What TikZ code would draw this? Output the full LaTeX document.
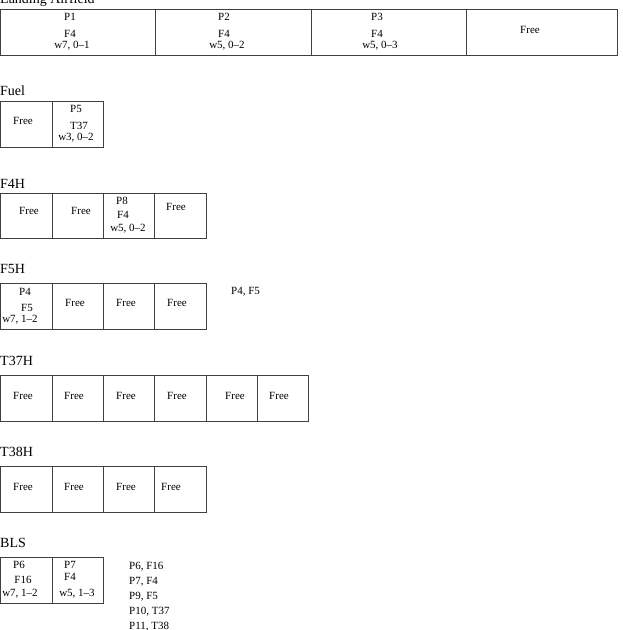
\documentclass[tikz,border=0pt]{standalone}
\usepackage{fontspec}
\setmainfont{Liberation Serif}
\usepackage{tikz}
\usetikzlibrary{positioning}
\tikzset{
  cellrow/.style={draw=black!75, line width=0.8pt},
  slot/.style={inner sep=0pt, font=\fontsize{11}{13}\selectfont},
  baylbl/.style={anchor=base west, inner sep=0pt, font=\fontsize{14}{16}\selectfont},
  listtxt/.style={slot, anchor=west},
}

\begin{document}
\begin{tikzpicture}[x=1pt,y=-1pt]
  \useasboundingbox (0,0) rectangle (622,630);

  % Landing Airfield
  \node[baylbl] (landlbl) at (0,3) {Landing Airfield};
  \draw[cellrow] (0.5,9.5) rectangle (617,55.5);
  \foreach \x in {155,311,466} \draw[cellrow] (\x,9.5) -- (\x,55.5);
  \node[slot] (p1) at (70,17) {P1};
  \node[slot] (p1f) at (70,34) {F4};
  \node[slot] (p1w) at (72,46) {w7, 0--1};
  \node[slot] (p2) at (224,17) {P2};
  \node[slot] (p2f) at (224,34) {F4};
  \node[slot] (p2w) at (227,46) {w5, 0--2};
  \node[slot] (p3) at (377,17) {P3};
  \node[slot] (p3f) at (377,34) {F4};
  \node[slot] (p3w) at (380,46) {w5, 0--3};
  \node[slot] (landfree) at (530,30) {Free};

  % Fuel
  \node[baylbl] (fuellbl) at (0,95) {Fuel};
  \draw[cellrow] (0.5,101) rectangle (103,147);
  \draw[cellrow] (52,101) -- (52,147);
  \node[slot] (fuelfree) at (23,121) {Free};
  \node[slot] (p5) at (76,109) {P5};
  \node[slot] (p5t) at (79,126) {T37};
  \node[slot] (p5w) at (76,138) {w3, 0--2};

  % F4H
  \node[baylbl] (f4hlbl) at (0,188) {F4H};
  \draw[cellrow] (0.5,193) rectangle (206,238);
  \foreach \x in {52,103,154} \draw[cellrow] (\x,193) -- (\x,238);
  \node[slot] (f4free1) at (29,211) {Free};
  \node[slot] (f4free2) at (81,211) {Free};
  \node[slot] (p8) at (122,201) {P8};
  \node[slot] (p8f) at (123,215) {F4};
  \node[slot] (p8w) at (128,229) {w5, 0--2};
  \node[slot] (f4free3) at (176,207) {Free};

  % F5H
  \node[baylbl] (f5hlbl) at (0,273) {F5H};
  \draw[cellrow] (0.5,283) rectangle (206,329);
  \foreach \x in {52,103,154} \draw[cellrow] (\x,283) -- (\x,329);
  \node[slot] (p4) at (25,292) {P4};
  \node[slot] (p4f) at (27,308) {F5};
  \node[slot] (p4w) at (20,320) {w7, 1--2};
  \node[slot] (f5free1) at (75,303) {Free};
  \node[slot] (f5free2) at (126,303) {Free};
  \node[slot] (f5free3) at (177,303) {Free};
  \node[listtxt] (f5note) at (231,292) {P4, F5};

  % T37H
  \node[baylbl] (t37lbl) at (0,365) {T37H};
  \draw[cellrow] (0.5,375) rectangle (308,421);
  \foreach \x in {52,103,154,206,257} \draw[cellrow] (\x,375) -- (\x,421);
  \foreach \x/\n in {23/1,74/2,126/3,177/4,235/5,279/6}
    \node[slot] (t37free\n) at (\x,396) {Free};

  % T38H
  \node[baylbl] (t38lbl) at (0,456) {T38H};
  \draw[cellrow] (0.5,466) rectangle (206,512);
  \foreach \x in {52,103,154} \draw[cellrow] (\x,466) -- (\x,512);
  \foreach \x/\n in {23/1,74/2,126/3,171/4}
    \node[slot] (t38free\n) at (\x,487) {Free};

  % BLS
  \node[baylbl] (blslbl) at (0,547) {BLS};
  \draw[cellrow] (0.5,557) rectangle (103,603);
  \draw[cellrow] (52,557) -- (52,603);
  \node[slot] (p6) at (19,565) {P6};
  \node[slot] (p6f) at (23,580) {F16};
  \node[slot] (p6w) at (20,594) {w7, 1--2};
  \node[slot] (p7) at (70,565) {P7};
  \node[slot] (p7f) at (70,577) {F4};
  \node[slot] (p7w) at (77,594) {w5, 1--3};

  \node[listtxt, anchor=base west] (q1) at (129,569) {P6, F16};
  \node[listtxt, anchor=base west] (q2) at (129,584) {P7, F4};
  \node[listtxt, anchor=base west] (q3) at (129,599) {P9, F5};
  \node[listtxt, anchor=base west] (q4) at (129,614) {P10, T37};
  \node[listtxt, anchor=base west] (q5) at (129,629) {P11, T38};
\end{tikzpicture}
\end{document}
